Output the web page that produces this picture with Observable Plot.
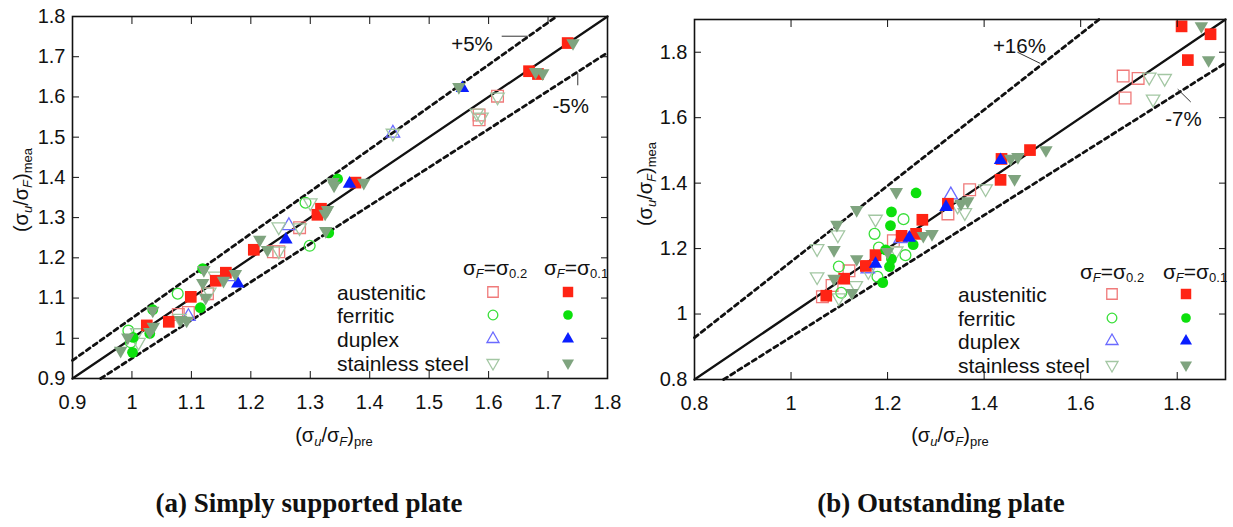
<!DOCTYPE html>
<html><head><meta charset="utf-8">
<script src="https://cdn.jsdelivr.net/npm/d3@7"></script>
<script src="https://cdn.jsdelivr.net/npm/@observablehq/plot@0.6"></script>
<style>
body{margin:0;background:#fff;font-family:"Liberation Sans",Arial,sans-serif;color:#111}
#wrap{position:relative;width:1233px;height:527px;overflow:hidden;background:#fff}
.abs{position:absolute;white-space:nowrap}
.c{transform:translate(-50%,-50%)}
.ttl{font-size:20px;line-height:1}
.ttl sub{font-size:13px;vertical-align:-4px}
.ttl i{font-style:italic}
.rot{transform:translate(-50%,-50%) rotate(-90deg)}
.leg{font-size:21px;line-height:1;transform:translateY(-50%)}
.hdr{font-size:21px;line-height:1}
.hdr sub{font-size:13px;vertical-align:-3px}
.cap{font-family:"Liberation Serif","Times New Roman",serif;font-weight:bold;font-size:27px;transform:translate(-50%,-50%)}
svg.sym{position:absolute;transform:translate(-50%,-50%)}
</style></head>
<body><div id="wrap"></div>
<script>
// ---------- data ----------
const categories = ["austenitic", "ferritic", "duplex", "stainless steel"];
const ticksA = [0.9, 1.0, 1.1, 1.2, 1.3, 1.4, 1.5, 1.6, 1.7, 1.8];
const ticksB = [0.8, 1.0, 1.2, 1.4, 1.6, 1.8];
const ratiosA = [1, 1.05, 0.95];
const ratiosB = [1, 1.16, 0.93];
const notesA = [{label: "+5%", x: 1.572, y: 1.731}, {label: "-5%", x: 1.738, y: 1.577}];
const leadersA = [{x1: 1.622, y1: 1.751, x2: 1.666, y2: 1.751}, {x1: 1.750, y1: 1.659, x2: 1.750, y2: 1.629}];
const notesB = [{label: "+16%", x: 1.473, y: 1.818}, {label: "-7%", x: 1.813, y: 1.596}];
const leadersB = [{x1: 1.469, y1: 1.800, x2: 1.516, y2: 1.766}, {x1: 1.801, y1: 1.687, x2: 1.828, y2: 1.648}];

// (a) simply supported plate : [pre, mea]
const aAus02 = [[1.078,1.059],[1.095,1.064],[1.127,1.111],[1.238,1.215],[1.247,1.215],[1.282,1.275],[1.584,1.555],[1.584,1.543],[1.615,1.602]];
const aAus01 = [[1.025,1.032],[1.062,1.041],[1.099,1.103],[1.141,1.143],[1.158,1.163],[1.205,1.220],[1.312,1.307],[1.318,1.322],[1.376,1.387],[1.668,1.664],[1.683,1.657],[1.733,1.734]];
const aFer02 = [[0.994,1.019],[0.998,0.990],[1.077,1.111],[1.292,1.337],[1.299,1.230]];
const aFer01 = [[1.001,0.965],[1.002,1.002],[1.030,1.012],[1.035,1.071],[1.115,1.076],[1.119,1.173],[1.331,1.262],[1.346,1.396]];
const aDup02 = [[1.095,1.054],[1.165,1.153],[1.264,1.280],[1.439,1.510]];
const aDup01 = [[1.178,1.136],[1.259,1.245],[1.366,1.384],[1.556,1.622]];
const aSs02 = [[1.009,1.014],[1.011,0.990],[1.080,1.050],[1.130,1.115],[1.140,1.155],[1.247,1.277],[1.282,1.275],[1.247,1.217],[1.300,1.337],[1.588,1.550],[1.580,1.560],[1.615,1.600],[1.439,1.510]];
const aSs01 = [[0.981,0.969],[0.993,1.002],[1.030,1.016],[1.036,1.029],[1.035,1.069],[1.082,1.046],[1.092,1.044],[1.119,1.138],[1.124,1.101],[1.121,1.170],[1.154,1.143],[1.174,1.160],[1.215,1.245],[1.228,1.220],[1.326,1.267],[1.329,1.319],[1.325,1.310],[1.338,1.389],[1.340,1.380],[1.390,1.387],[1.550,1.625],[1.679,1.662],[1.691,1.659],[1.742,1.734]];

// (b) outstanding plate : [pre, mea]
const bAus02 = [[1.065,1.053],[1.085,1.087],[1.120,1.132],[1.212,1.224],[1.325,1.306],[1.370,1.380],[1.688,1.727],[1.719,1.720],[1.692,1.660]];
const bAus01 = [[1.073,1.056],[1.110,1.108],[1.155,1.147],[1.175,1.180],[1.229,1.239],[1.259,1.245],[1.272,1.288],[1.325,1.337],[1.436,1.474],[1.434,1.410],[1.495,1.501],[1.809,1.879],[1.869,1.855],[1.822,1.776]];
const bFer02 = [[1.099,1.145],[1.104,1.065],[1.173,1.245],[1.182,1.203],[1.179,1.114],[1.233,1.290],[1.237,1.180]];
const bFer01 = [[1.190,1.096],[1.196,1.196],[1.204,1.145],[1.208,1.168],[1.206,1.270],[1.208,1.312],[1.253,1.212],[1.259,1.370]];
const bDup02 = [[1.159,1.138],[1.227,1.230],[1.331,1.364]];
const bDup01 = [[1.175,1.153],[1.245,1.233],[1.321,1.327],[1.434,1.470]];
const bSs02 = [[1.054,1.200],[1.054,1.114],[1.097,1.242],[1.099,1.050],[1.134,1.087],[1.175,1.290],[1.218,1.193],[1.345,1.330],[1.360,1.310],[1.403,1.383],[1.742,1.724],[1.774,1.720],[1.750,1.657],[1.160,1.130]];
const bSs01 = [[1.089,1.196],[1.095,1.273],[1.136,1.318],[1.218,1.373],[1.089,1.108],[1.126,1.065],[1.136,1.168],[1.274,1.239],[1.292,1.245],[1.352,1.337],[1.366,1.345],[1.455,1.475],[1.470,1.480],[1.463,1.413],[1.528,1.501],[1.850,1.880],[1.865,1.776],[1.200,1.190]];

// ---------- styles ----------
const catStyle = {
  "austenitic":      {symbol: "square",   r: 6.6, rotate: 0,   open: "#f07a7a", fill: "#ff2414"},
  "ferritic":        {symbol: "circle",   r: 5.4, rotate: 0,   open: "#3adf3a", fill: "#0ce00c"},
  "duplex":          {symbol: "triangle", r: 5.0, rotate: 0,   open: "#6a6aff", fill: "#0a1eff"},
  "stainless steel": {symbol: "triangle", r: 5.0, rotate: 180, open: "#a3c7a3", fill: "#7fa47f"}
};
const seriesA = [
  [aAus02, "austenitic", 0], [aFer02, "ferritic", 0], [aDup02, "duplex", 0], [aSs02, "stainless steel", 0],
  [aAus01, "austenitic", 1], [aFer01, "ferritic", 1], [aDup01, "duplex", 1], [aSs01, "stainless steel", 1]
];
const seriesB = [
  [bAus02, "austenitic", 0], [bFer02, "ferritic", 0], [bDup02, "duplex", 0], [bSs02, "stainless steel", 0],
  [bAus01, "austenitic", 1], [bFer01, "ferritic", 1], [bDup01, "duplex", 1], [bSs01, "stainless steel", 1]
];

const fmt = d => String(Math.round(d * 10) / 10);

function buildPanel(cfg) {
  const {xd, yd, ticks, ratios, series, notes, leaders, width, height, mt, mr, mb, ml} = cfg;
  const segs = ratios.map(k => {
    const xa = Math.max(xd[0], yd[0] / k), xb = Math.min(xd[1], yd[1] / k);
    return [{k, x: xa, y: k * xa}, {k, x: xb, y: k * xb}];
  });
  const solid = segs.filter(s => s[0].k === 1).flat();
  const dashed = segs.filter(s => s[0].k !== 1).flat();
  const marks = [
    Plot.line(dashed, {x: "x", y: "y", z: "k", stroke: "#111", strokeWidth: 2.8, strokeDasharray: "4.5,4"}),
    Plot.line(solid, {x: "x", y: "y", stroke: "#111", strokeWidth: 2.3})
  ];
  for (const [data, cat, filled] of series) {
    const st = catStyle[cat];
    marks.push(Plot.dot(data, {
      x: d => d[0], y: d => d[1], symbol: st.symbol, r: st.r, rotate: st.rotate,
      fill: filled ? st.fill : "none", stroke: filled ? "none" : st.open, strokeWidth: 1.3
    }));
  }
  marks.push(Plot.link(leaders, {x1: "x1", y1: "y1", x2: "x2", y2: "y2", stroke: "#333", strokeWidth: 1}));
  marks.push(Plot.text(notes, {x: "x", y: "y", text: "label", fontSize: 20.5, fill: "#111"}));
  marks.push(
    Plot.axisX({ticks, anchor: "bottom", tickSize: 0, tickPadding: 16, tickFormat: fmt, fontSize: 20, label: null, fill: "#111"}),
    Plot.axisX({ticks, anchor: "bottom", tickSize: 7, dy: -7, tickFormat: () => "", label: null}),
    Plot.axisX({ticks, anchor: "top", tickSize: 7, dy: 7, tickFormat: () => "", label: null}),
    Plot.axisY({ticks, anchor: "left", tickSize: 0, tickPadding: 7, tickFormat: fmt, fontSize: 20, label: null, fill: "#111"}),
    Plot.axisY({ticks, anchor: "left", tickSize: 7, dx: 7, tickFormat: () => "", label: null}),
    Plot.axisY({ticks, anchor: "right", tickSize: 7, dx: -7, tickFormat: () => "", label: null}),
    Plot.frame({stroke: "#111", strokeWidth: 1.6})
  );
  return Plot.plot({
    width, height, marginTop: mt, marginRight: mr, marginBottom: mb, marginLeft: ml,
    x: {domain: xd}, y: {domain: yd},
    style: {fontFamily: "'Liberation Sans', Arial, sans-serif", background: "transparent", overflow: "visible"},
    marks
  });
}

const wrap = document.getElementById("wrap");
function place(el, left, top) {
  const d = document.createElement("div");
  d.className = "abs"; d.style.left = left + "px"; d.style.top = top + "px";
  d.appendChild(el); wrap.appendChild(d); return d;
}
place(buildPanel({xd: [0.9, 1.8], yd: [0.9, 1.8], ticks: ticksA, ratios: ratiosA, series: seriesA,
  notes: notesA, leaders: leadersA, width: 620, height: 420, mt: 16, mr: 13, mb: 42, ml: 72}), 0, 0);
place(buildPanel({xd: [0.8, 1.9], yd: [0.8, 1.9], ticks: ticksB, ratios: ratiosB, series: seriesB,
  notes: notesB, leaders: leadersB, width: 613, height: 420, mt: 19, mr: 8, mb: 41, ml: 74}), 620, 0);

function html(cls, left, top, inner) {
  const d = document.createElement("div");
  d.className = "abs " + cls; d.style.left = left + "px"; d.style.top = top + "px";
  d.innerHTML = inner; wrap.appendChild(d); return d;
}
const xTitle = "(σ<sub><i>u</i></sub>/σ<sub><i>F</i></sub>)<sub>pre</sub>";
const yTitle = "(σ<sub><i>u</i></sub>/σ<sub><i>F</i></sub>)<sub>mea</sub>";
html("ttl c", 334, 436, xTitle);
html("ttl rot", 22, 190, yTitle);
html("ttl c", 950, 436, xTitle);
html("ttl rot", 646, 184, yTitle);

// legends
const symMap = {square: d3.symbolSquare, circle: d3.symbolCircle, triangle: d3.symbolTriangle};
function legendSym(cat, filled, cx, cy) {
  const st = catStyle[cat];
  const size = Math.PI * st.r * st.r * 0.8;
  const p = d3.symbol(symMap[st.symbol], size)();
  const svg = document.createElementNS("http://www.w3.org/2000/svg", "svg");
  svg.setAttribute("class", "sym"); svg.setAttribute("width", 16); svg.setAttribute("height", 16);
  svg.setAttribute("viewBox", "-8 -8 16 16");
  svg.style.left = cx + "px"; svg.style.top = cy + "px";
  svg.innerHTML = `<path d="${p}" transform="rotate(${st.rotate})" fill="${filled ? st.fill : "none"}" stroke="${filled ? "none" : st.open}" stroke-width="1.3"/>`;
  wrap.appendChild(svg);
}
function legend(lx, rows, c1, c2, hy, h1, h2) {
  html("hdr c", h1, hy, "σ<sub><i>F</i></sub>=σ<sub>0.2</sub>");
  html("hdr c", h2, hy, "σ<sub><i>F</i></sub>=σ<sub>0.1</sub>");
  categories.forEach((cat, i) => {
    html("leg", lx, rows[i], cat);
    legendSym(cat, false, c1, rows[i]);
    legendSym(cat, true, c2, rows[i]);
  });
}
legend(337, [292, 315, 339, 363], 493, 568, 268, 495, 576);
legend(958, [294, 318, 341, 365], 1112, 1186, 272, 1112, 1195);

html("cap", 309, 503, "(a) Simply supported plate");
html("cap", 941, 503, "(b) Outstanding plate");
</script></body></html>
